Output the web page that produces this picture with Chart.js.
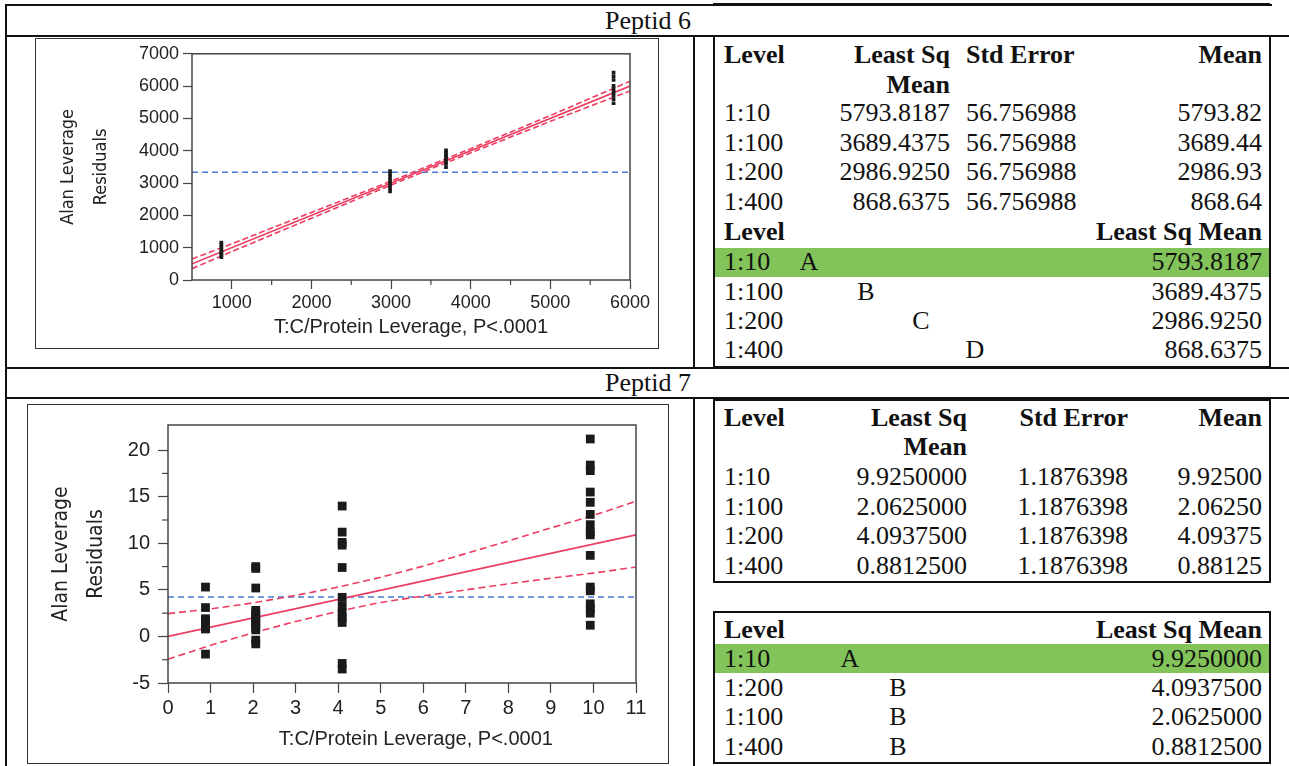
<!DOCTYPE html>
<html>
<head>
<meta charset="utf-8">
<script src="https://cdn.jsdelivr.net/npm/chart.js@4.4.0/dist/chart.umd.min.js"></script>
<style>
  body { margin: 0; background: #fff; width: 1289px; height: 766px; overflow: hidden; position: relative;
         font-family: "Liberation Serif", "Times New Roman", serif; color: #111; }
  .ln { position: absolute; background: #111; }
  .box { position: absolute; border: 2px solid #111; box-sizing: border-box; }
  .frame { position: absolute; border: 1.5px solid #333; box-sizing: border-box; }
  .t { position: absolute; font-size: 26px; line-height: 30px; white-space: nowrap; }
  .b { font-weight: bold; }
  .green { position: absolute; background: #82c45a; }
  .cv { position: absolute; }
</style>
</head>
<body>
<div class="frame" style="left:35px;top:38px;width:624px;height:311px"></div>
<div class="frame" style="left:27px;top:404px;width:642px;height:360px"></div>
<div class="cv" style="left:36px;top:39px;width:620px;height:308px"><canvas id="c6"></canvas></div>
<div class="cv" style="left:28px;top:405px;width:630px;height:356px"><canvas id="c7"></canvas></div>
<script>
// ---- shared labels
const levels = ['1:10', '1:100', '1:200', '1:400'];

// ---- Peptid 6
const p6LsMean = [5793.8187, 3689.4375, 2986.9250, 868.6375];
const p6Res10 = [6420, 6300, 6190, 6010, 5920, 5820, 5720, 5600, 5470];
const p6Res100 = [4010, 3940, 3870, 3800, 3730, 3660, 3590, 3490];
const p6Res200 = [3370, 3280, 3190, 3100, 3010, 2920, 2830, 2740];
const p6Res400 = [1160, 1090, 1020, 950, 880, 820, 760, 710];
const p6CiX = [500, 1000, 2000, 3000, 3335, 4000, 5000, 6000];
const p6Upper = [650, 1120, 2090, 3060, 3395, 4065, 5090, 6150];
const p6Lower = [350, 880, 1910, 2940, 3275, 3935, 4910, 5850];
const p6FitX = [500, 6000];
const p6FitY = [500, 6000];
const p6GrandMean = 3334.7;
const p6XTicks = [1000, 2000, 3000, 4000, 5000, 6000];
const p6XMinor = [1500, 2500, 3500, 4500, 5500];
const p6YTicks = [0, 1000, 2000, 3000, 4000, 5000, 6000, 7000];

// ---- Peptid 7
const p7LsMean = [9.925, 2.0625, 4.09375, 0.88125];
const p7Res10 = [21.2, 18.4, 17.8, 15.5, 14.4, 13.1, 12.0, 11.2, 10.9, 8.7, 5.3, 4.9, 3.5, 3.0, 2.5, 1.2];
const p7Res100 = [7.5, 7.3, 5.2, 2.8, 2.5, 2.2, 1.9, 1.6, 1.3, 1.0, 0.7, -0.4, -0.8];
const p7Res200 = [14.0, 11.2, 10.1, 9.8, 7.4, 4.2, 3.3, 2.5, 2.0, 1.5, -2.9, -3.5];
const p7Res400 = [5.3, 3.1, 1.9, 1.7, 1.5, 1.3, 1.1, 0.9, 0.8, -1.9];
const p7CiX = [0, 1, 2, 3, 4, 5, 6, 7, 8, 9, 10, 11];
const p7Upper = [2.45, 2.95, 3.6, 4.4, 5.3, 6.35, 7.55, 8.9, 10.25, 11.65, 13.0, 14.5];
const p7Lower = [-2.45, -0.95, 0.4, 1.6, 2.7, 3.65, 4.35, 5.0, 5.65, 6.25, 6.8, 7.45];
const p7FitX = [0, 11];
const p7FitY = [0, 10.9];
const p7GrandMean = 4.24;
const p7XTicks = [0, 1, 2, 3, 4, 5, 6, 7, 8, 9, 10, 11];
const p7YTicks = [-5, 0, 5, 10, 15, 20];
const p7YMinor = [-2.5, 2.5, 7.5, 12.5, 17.5];

// ---- table texts
const p6StdErr = ['56.756988', '56.756988', '56.756988', '56.756988'];
const p6LsMeanTxt = ['5793.8187', '3689.4375', '2986.9250', '868.6375'];
const p6MeanTxt = ['5793.82', '3689.44', '2986.93', '868.64'];
const p6Letters = ['A', 'B', 'C', 'D'];
const p7StdErr = ['1.1876398', '1.1876398', '1.1876398', '1.1876398'];
const p7LsMeanTxt = ['9.9250000', '2.0625000', '4.0937500', '0.8812500'];
const p7MeanTxt = ['9.92500', '2.06250', '4.09375', '0.88125'];
const p7OrderLevels = ['1:10', '1:200', '1:100', '1:400'];
const p7OrderLetters = ['A', 'B', 'B', 'B'];
const p7OrderMeans = ['9.9250000', '4.0937500', '2.0625000', '0.8812500'];

// ---- page frame
const W = 1289;
function el(cls, css) {
  const d = document.createElement('div');
  d.className = cls;
  d.style.cssText = css;
  document.body.appendChild(d);
  return d;
}
function line(x, y, w, h) { el('ln', `left:${x}px;top:${y}px;width:${w}px;height:${h}px`); }
function txt(s, x, cy, align, bold) {
  let css = `top:${cy - 15}px;`;
  if (align === 'r') css += `right:${W - x}px;text-align:right;`;
  else if (align === 'c') css += `left:${x - 60}px;width:120px;text-align:center;`;
  else css += `left:${x}px;`;
  const d = el('t' + (bold ? ' b' : ''), css);
  d.textContent = s;
}

line(6, 4, 1266, 2);
line(713, 3, 557, 3);
line(5, 4, 2, 762);
line(6, 35, 1283, 2);
line(6, 367, 1283, 2);
line(6, 397, 1283, 2);
line(693, 36, 2, 332);
line(693, 398, 2, 368);
el('box', 'left:713px;top:35px;width:558px;height:333px');
el('box', 'left:713px;top:399px;width:558px;height:184px');
el('box', 'left:713px;top:611px;width:558px;height:153px');
el('green', 'left:715px;top:248px;width:554px;height:29px');
el('green', 'left:715px;top:644px;width:554px;height:29px');

txt('Peptid 6', 648, 21, 'c');
txt('Peptid 7', 648, 383, 'c');

// Peptid 6 table
txt('Level', 724, 55, 'l', true);
txt('Least Sq', 950, 55, 'r', true);
txt('Mean', 950, 85, 'r', true);
txt('Std Error', 966, 55, 'l', true);
txt('Mean', 1262, 55, 'r', true);
const rows6 = [113, 143, 172, 202];
levels.forEach((lv, i) => {
  txt(lv, 724, rows6[i], 'l');
  txt(p6LsMeanTxt[i], 950, rows6[i], 'r');
  txt(p6StdErr[i], 966, rows6[i], 'l');
  txt(p6MeanTxt[i], 1262, rows6[i], 'r');
});
txt('Level', 724, 232, 'l', true);
txt('Least Sq Mean', 1262, 232, 'r', true);
const rows6b = [262, 292, 321, 350];
const letterX6 = [809, 866, 921, 975];
levels.forEach((lv, i) => {
  txt(lv, 724, rows6b[i], 'l');
  txt(p6Letters[i], letterX6[i], rows6b[i], 'c');
  txt(p6LsMeanTxt[i], 1262, rows6b[i], 'r');
});

// Peptid 7 tables
txt('Level', 724, 418, 'l', true);
txt('Least Sq', 967, 418, 'r', true);
txt('Mean', 967, 447, 'r', true);
txt('Std Error', 1128, 418, 'r', true);
txt('Mean', 1262, 418, 'r', true);
const rows7 = [477, 507, 536, 566];
levels.forEach((lv, i) => {
  txt(lv, 724, rows7[i], 'l');
  txt(p7LsMeanTxt[i], 967, rows7[i], 'r');
  txt(p7StdErr[i], 1128, rows7[i], 'r');
  txt(p7MeanTxt[i], 1262, rows7[i], 'r');
});
txt('Level', 724, 630, 'l', true);
txt('Least Sq Mean', 1262, 630, 'r', true);
const rows7b = [659, 688, 717, 747];
const letterX7 = [850, 898, 898, 898];
p7OrderLevels.forEach((lv, i) => {
  txt(lv, 724, rows7b[i], 'l');
  txt(p7OrderLetters[i], letterX7[i], rows7b[i], 'c');
  txt(p7OrderMeans[i], 1262, rows7b[i], 'r');
});

// ---- charts
const RED = '#ec3d60';
const BLUE = '#4a7bd0';
const INK = '#222';
const NARROW = '"Liberation Sans Narrow", "Arial Narrow", "DejaVu Sans Condensed", sans-serif';
const SANS = '"Liberation Sans", Arial, sans-serif';

const frameBox = {
  id: 'frameBox',
  afterDraw(chart) {
    const { ctx, chartArea: a } = chart;
    ctx.save();
    ctx.strokeStyle = '#444';
    ctx.lineWidth = 1.5;
    ctx.strokeRect(a.left, a.top, a.right - a.left, a.bottom - a.top);
    ctx.restore();
  }
};

// short ticks between the labelled ones
const minorTicks = {
  id: 'minorTicks',
  afterDraw(chart, args, opts) {
    const { ctx, chartArea: a } = chart;
    ctx.save();
    ctx.strokeStyle = '#444';
    ctx.lineWidth = 1.2;
    (opts.x || []).forEach(v => {
      const px = chart.scales.x.getPixelForValue(v);
      ctx.beginPath(); ctx.moveTo(px, a.bottom); ctx.lineTo(px, a.bottom + opts.len); ctx.stroke();
    });
    (opts.y || []).forEach(v => {
      const py = chart.scales.y.getPixelForValue(v);
      ctx.beginPath(); ctx.moveTo(a.left, py); ctx.lineTo(a.left - opts.len, py); ctx.stroke();
    });
    ctx.restore();
  }
};

const toPts = (x, ys) => ys.map(y => ({ x: x, y: y }));
const toLine = (xs, ys) => xs.map((x, i) => ({ x: x, y: ys[i] }));

function pointSet(x, ys, r) {
  return { data: toPts(x, ys), pointStyle: 'rect', pointRadius: r, pointBorderWidth: 0,
           backgroundColor: '#1a1a1a', borderColor: '#1a1a1a', showLine: false };
}
function lineSet(data, color, dash) {
  return { data: data, showLine: true, pointRadius: 0, borderColor: color, borderWidth: 1.6,
           borderDash: dash || [], fill: false };
}

function makeChart(id, cfg) {
  const ctx = document.getElementById(id);
  return new Chart(ctx, {
    type: 'scatter',
    data: { datasets: cfg.datasets },
    options: {
      responsive: true,
      maintainAspectRatio: false,
      animation: false,
      events: [],
      layout: { padding: cfg.padding },
      plugins: { legend: { display: false }, tooltip: { enabled: false },
                 minorTicks: cfg.minor },
      scales: {
        x: {
          type: 'linear', min: cfg.xMin, max: cfg.xMax,
          afterBuildTicks: s => { s.ticks = cfg.xTicks.map(v => ({ value: v })); },
          afterFit: s => { s.height = cfg.xHeight; },
          grid: { drawOnChartArea: false, drawTicks: true, tickLength: cfg.tickLen, tickColor: '#444', tickWidth: 1.2 },
          border: { display: false },
          ticks: { color: INK, font: { family: SANS, size: cfg.tickSize }, padding: 3, maxRotation: 0,
                   callback: v => String(v) },
          title: { display: true, text: cfg.xTitle, color: INK,
                   font: { family: SANS, size: cfg.xTitleSize }, padding: { top: 0, bottom: cfg.xTitlePad } }
        },
        y: {
          type: 'linear', min: cfg.yMin, max: cfg.yMax,
          afterBuildTicks: s => { s.ticks = cfg.yTicks.map(v => ({ value: v })); },
          afterFit: s => { s.width = cfg.yWidth; },
          grid: { drawOnChartArea: false, drawTicks: true, tickLength: cfg.tickLen, tickColor: '#444', tickWidth: 1.2 },
          border: { display: false },
          ticks: { color: INK, font: { family: SANS, size: cfg.tickSize }, padding: cfg.yTickPad,
                   callback: v => String(v) },
          title: { display: true, text: ['Alan Leverage', 'Residuals'], color: INK,
                   font: { family: NARROW, size: cfg.yTitleSize, lineHeight: cfg.yTitleLine + 'px' },
                   padding: { top: cfg.yTitlePad, bottom: 0 } }
        }
      }
    },
    plugins: [frameBox, minorTicks]
  });
}

makeChart('c6', {
  datasets: [
    pointSet(p6LsMean[0], p6Res10, 2.6),
    pointSet(p6LsMean[1], p6Res100, 2.6),
    pointSet(p6LsMean[2], p6Res200, 2.6),
    pointSet(p6LsMean[3], p6Res400, 2.6),
    lineSet(toLine(p6FitX, p6FitY), RED),
    lineSet(toLine(p6CiX, p6Upper), RED, [6, 3]),
    lineSet(toLine(p6CiX, p6Lower), RED, [6, 3]),
    lineSet(toLine([500, 6000], [p6GrandMean, p6GrandMean]), BLUE, [6, 4])
  ],
  padding: { top: 12, right: 26, left: 0, bottom: 0 },
  xMin: 500, xMax: 6000, yMin: 0, yMax: 7000,
  xTicks: p6XTicks, yTicks: p6YTicks,
  minor: { x: p6XMinor, len: 5 },
  xHeight: 67, yWidth: 156, tickLen: 9, tickSize: 18, yTickPad: 4,
  xTitle: 'T:C/Protein Leverage, P<.0001', xTitleSize: 20, xTitlePad: 8,
  yTitleSize: 18, yTitleLine: 33, yTitlePad: 15.5
});

makeChart('c7', {
  datasets: [
    pointSet(p7LsMean[0], p7Res10, 6.2),
    pointSet(p7LsMean[1], p7Res100, 6.2),
    pointSet(p7LsMean[2], p7Res200, 6.2),
    pointSet(p7LsMean[3], p7Res400, 6.2),
    lineSet(toLine(p7FitX, p7FitY), RED),
    lineSet(toLine(p7CiX, p7Upper), RED, [7, 4]),
    lineSet(toLine(p7CiX, p7Lower), RED, [7, 4]),
    lineSet(toLine([0, 11], [p7GrandMean, p7GrandMean]), BLUE, [6, 4])
  ],
  padding: { top: 11, right: 22, left: 0, bottom: 0 },
  xMin: 0, xMax: 11, yMin: -5, yMax: 22.7,
  xTicks: p7XTicks, yTicks: p7YTicks,
  minor: { y: p7YMinor, len: 6 },
  xHeight: 78, yWidth: 140, tickLen: 10, tickSize: 20, yTickPad: 8,
  xTitle: '\u00a0\u00a0\u00a0\u00a0\u00a0T:C/Protein Leverage, P<.0001', xTitleSize: 20, xTitlePad: 10,
  yTitleSize: 21, yTitleLine: 35, yTitlePad: 16.5
});
</script>
</body>
</html>
